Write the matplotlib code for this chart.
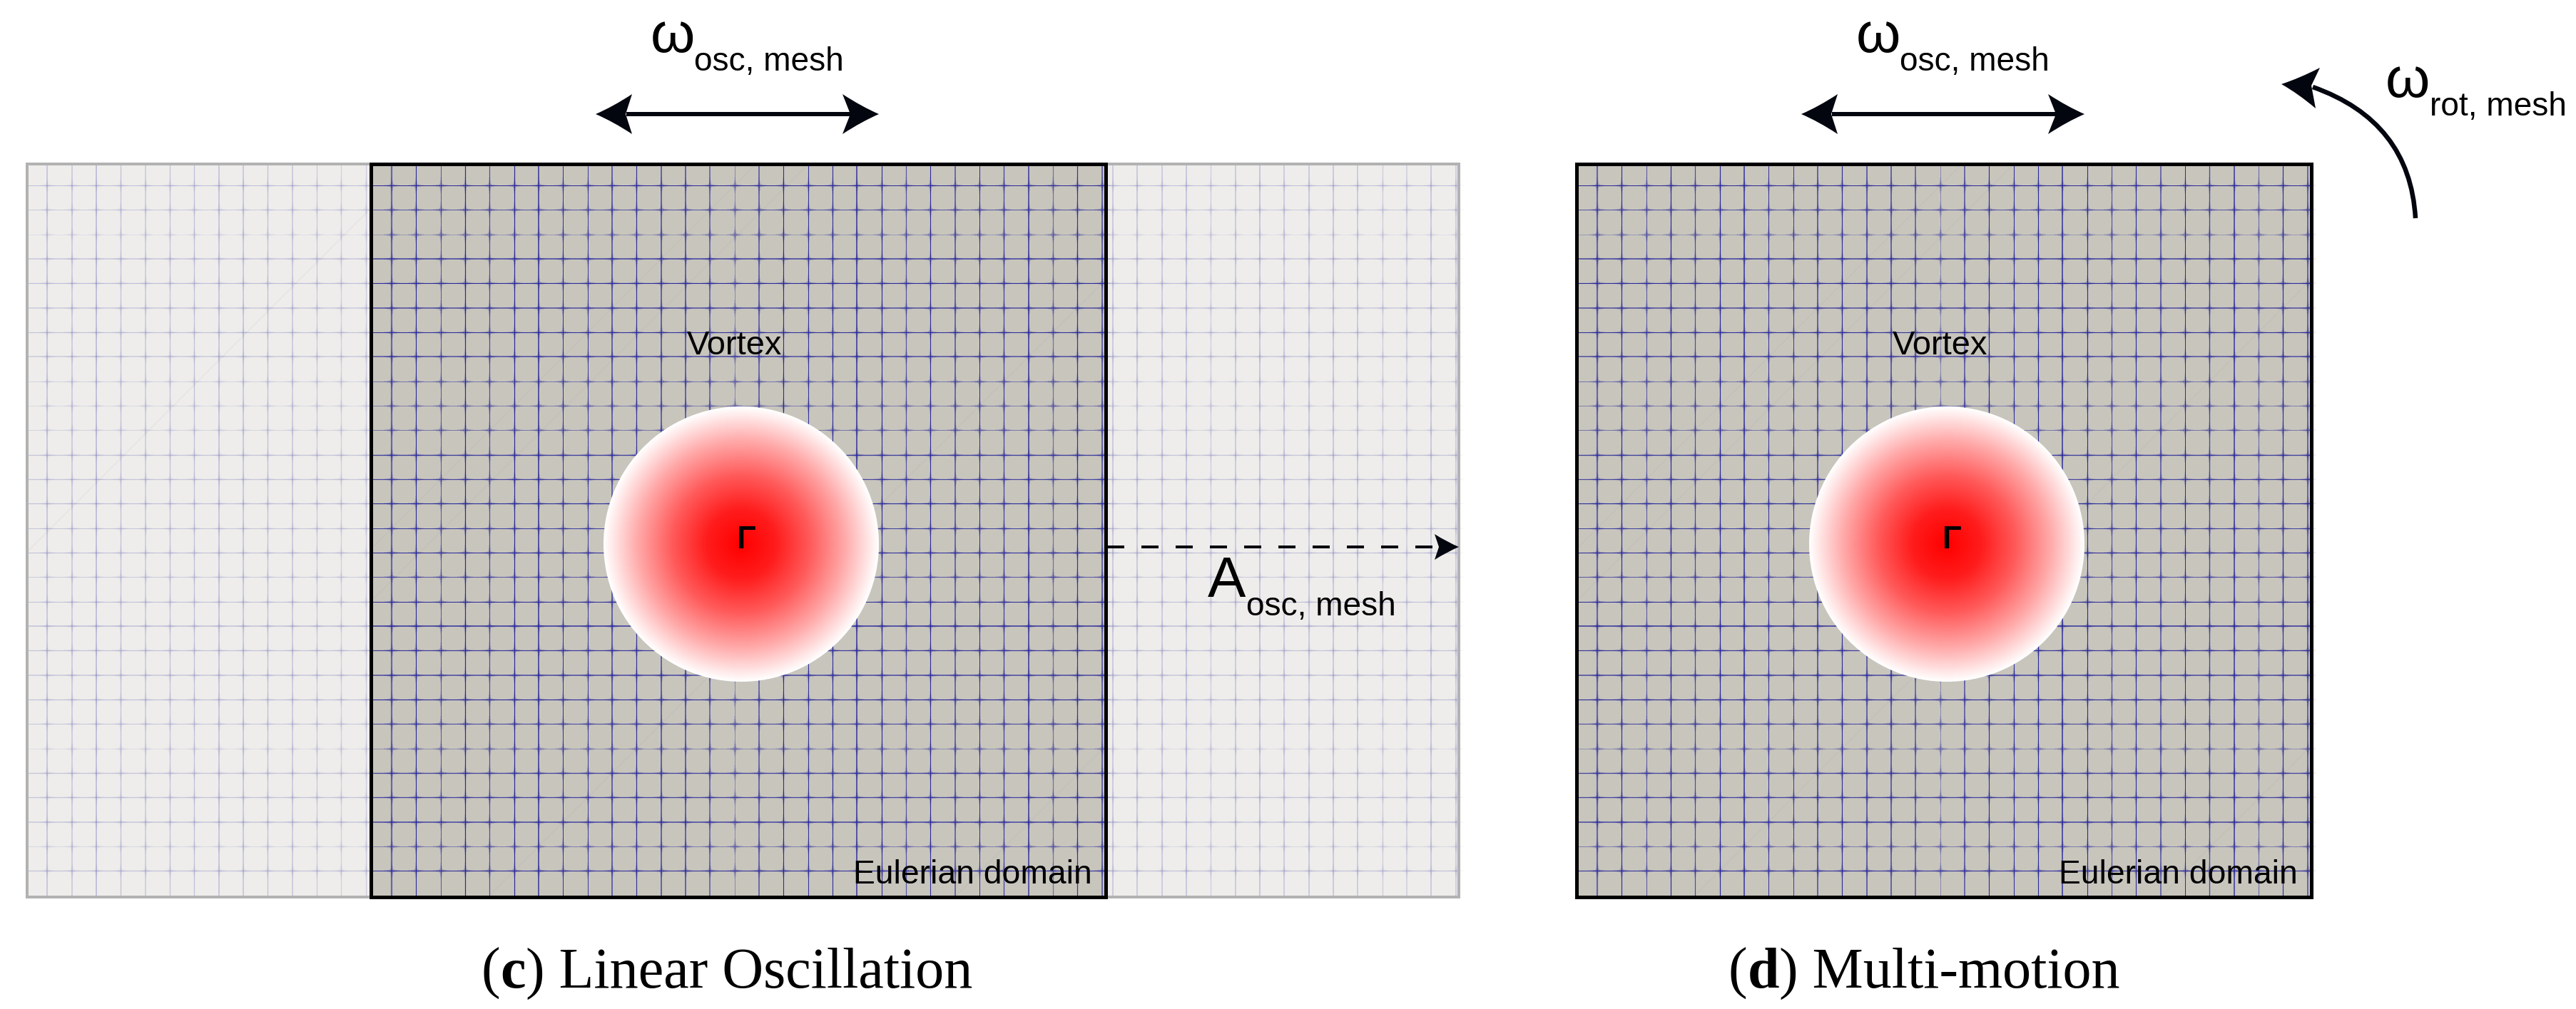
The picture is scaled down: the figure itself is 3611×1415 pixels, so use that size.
import numpy as np
import matplotlib
matplotlib.use("Agg")
import matplotlib.pyplot as plt
from matplotlib.path import Path
from matplotlib.patches import PathPatch, Rectangle, Circle
from matplotlib.colors import LinearSegmentedColormap, to_rgba
from matplotlib.collections import LineCollection

W, H = 3612, 1415
CELL = 34.33

# mesh line indices (counted in cells from the first interior line)
domain_cols = [0, 1, 2, 3, 4, 5, 6, 7, 8, 9, 10, 11, 12, 13, 14, 15, 16, 17, 18, 19, 20, 21, 22, 23, 24, 25, 26, 27, 28, 29]
domain_rows = [0, 1, 2, 3, 4, 5, 6, 7, 8, 9, 10, 11, 12, 13, 14, 15, 16, 17, 18, 19, 20, 21, 22, 23, 24, 25, 26, 27, 28]
left_cols = [-14, -13, -12, -11, -10, -9, -8, -7, -6, -5, -4, -3, -2, -1]
right_cols = [30, 31, 32, 33, 34, 35, 36, 37, 38, 39, 40, 41, 42, 43, 44]

# rendered weight of each mesh line
col_width = [2.2, 1.1, 1.0, 1.2, 1.2, 1.2, 2.0, 1.0, 1.0, 1.5, 1.2, 1.5, 1.5, 1.5, 1.0,
             1.5, 1.1, 1.1, 1.1, 2.0, 1.1, 1.2, 1.1, 1.6, 1.0, 1.3, 1.5, 1.2, 1.2, 2.0]
col_alpha = [.55, .90, .65, .90, .70, .90, .65, .85, .80, .75, .85, .75, .75, .65, .35,
             .70, .90, .85, .90, .65, .90, .65, .90, .65, .90, .75, .85, .50, .85, .55]
row_width = [1.0, 1.0, 1.0, 1.8, 1.1, 1.5, 1.1, 1.5, 1.0, 1.0, 1.0, 1.3, 1.2, 1.1, 1.0,
             1.0, 1.0, 1.0, 2.0, 1.2, 1.7, 1.1, 1.1, 1.0, 1.3, 1.3, 1.5, 1.0, 1.2]
row_alpha = [.90, .65, .25, .65, .90, .70, .85, .70, .45, .40, .45, .80, .75, .90, .80,
             .92, .65, .92, .65, .80, .65, .90, .70, .30, .75, .75, .75, .40, .80]
left_width = [1.6, 1.5, 2.0, 1.3, 1.5, 1.3, 1.3, 1.6, 1.6, 1.3, 1.6, 1.3, 1.3, 1.3]
left_alpha = [.21, .20, .20, .20, .18, .20, .20, .21, .20, .21, .18, .17, .14, .15]
right_width = [1.8, 1.6, 1.5, 1.6, 1.3, 1.5, 1.6, 1.5, 1.6, 1.5, 1.5, 1.3, 1.5, 1.6, 1.6]
right_alpha = [.17, .20, .20, .21, .15, .20, .21, .20, .20, .21, .20, .15, .15, .20, .18]

# faint mesh diagonals, as x + y of each
domain_diagonals = [1290, 1363, 1942, 2596]
outer_diagonals = [812]

captions = [[("(", False), ("c", True), (") Linear Oscillation", False)],
            [("(", False), ("d", True), (") Multi-motion", False)]]

SANS = "Liberation Sans"
SERIF = "Liberation Serif"
px = 0.72  # points per pixel at dpi 100

fig = plt.figure(figsize=(W / 100, H / 100), dpi=100, facecolor="white")
ax = fig.add_axes([0, 0, 1, 1])
ax.set_xlim(0, W)
ax.set_ylim(H, 0)
ax.axis("off")

TOP, BOTTOM = 230, 1258
X0, Y0 = 549, 260
SHIFT = 1690
NAVY = "#1a1a96"
DARK = "#03060f"


def col_x(k, off=0):
    return X0 + off + CELL * k


def row_y(k):
    return Y0 + CELL * k


def mesh(cols, rows, off, cw, ca, rw, ra, x_rng, z, ascale=1.0, star=1.0):
    vs = [[(col_x(c, off), TOP), (col_x(c, off), BOTTOM)] for c in cols]
    hs = [[(x_rng[0], row_y(r)), (x_rng[1], row_y(r))] for r in rows]
    colors = [to_rgba(NAVY, a) for a in ca] + [to_rgba(NAVY, a * ascale) for a in ra]
    widths = [w * px for w in list(cw) + list(rw)]
    ax.add_collection(LineCollection(vs + hs, colors=colors, linewidths=widths, zorder=z, capstyle="butt"))
    X, Y = np.meshgrid([col_x(c, off) for c in cols], [row_y(r) for r in rows])
    for length, lw, a in ((22, 1.6, .12), (14, 3.2, .12), (7, 4.0, .15)):
        ax.scatter(X.ravel(), Y.ravel(), marker="+", s=(length * px) ** 2, linewidths=lw * px,
                   color=NAVY, alpha=a * star, zorder=z)


def diagonals(sums, x_l, x_r, z):
    for s in sums:
        x1, x2 = max(x_l, s - BOTTOM), min(x_r, s - TOP)
        if x2 > x1:
            ax.plot([x1, x2], [s - x1, s - x2], color="#8a8a8a", alpha=.10, lw=1.1 * px, zorder=z)


def head(tip, c1, notch, c2, z=8):
    axis_mid = ((tip[0] + notch[0]) / 2, (tip[1] + notch[1]) / 2)
    m1 = ((tip[0] + c1[0]) / 2 * .75 + axis_mid[0] * .25, (tip[1] + c1[1]) / 2 * .75 + axis_mid[1] * .25)
    m2 = ((tip[0] + c2[0]) / 2 * .75 + axis_mid[0] * .25, (tip[1] + c2[1]) / 2 * .75 + axis_mid[1] * .25)
    verts = [tip, m1, c1, notch, c2, m2, tip, tip]
    codes = [Path.MOVETO, Path.CURVE3, Path.CURVE3, Path.LINETO, Path.LINETO, Path.CURVE3, Path.CURVE3, Path.CLOSEPOLY]
    ax.add_patch(PathPatch(Path(verts, codes), facecolor=DARK, edgecolor="none", zorder=z))


def double_arrow(off):
    y = 160
    ax.plot([878 + off, 1192 + off], [y, y], color=DARK, lw=6 * px, solid_capstyle="butt", zorder=7)
    head((835 + off, y), (886 + off, y - 28), (877 + off, y), (886 + off, y + 28))
    head((1232 + off, y), (1181 + off, y - 28), (1192 + off, y), (1181 + off, y + 28))


def sub_label(big, sub, x_big, x_sub, y_big, y_sub):
    ax.text(x_big, y_big, big, family=SANS, fontsize=80 * px, va="baseline", ha="left", color="black", zorder=9)
    ax.text(x_sub, y_sub, sub, family=SANS, fontsize=46 * px, va="baseline", ha="left", color="black", zorder=9)


# ---- left panel background: faded moving range
ax.add_patch(Rectangle((38, TOP), 2045 - 38, BOTTOM - TOP, facecolor="#eeedeb", edgecolor="none", zorder=1))
mesh(left_cols, domain_rows, -2, left_width, left_alpha, row_width, row_alpha, (38, 520), 2, ascale=.24, star=.2)
mesh(right_cols, domain_rows, -19, right_width, right_alpha, row_width, row_alpha, (1550, 2045), 2, ascale=.24, star=.2)
diagonals(outer_diagonals, 38, 520, 2)
ax.add_patch(Rectangle((38, TOP), 2045 - 38, BOTTOM - TOP, facecolor="none", edgecolor="#b2b2b2", lw=4 * px, zorder=3))

# ---- domains
cmap = LinearSegmentedColormap.from_list("v", ["#ff0000", "#ff1c1c", "#ff5a5a", "#ffa8a8", "#ffffff"])
n = 500
xs = np.linspace(-1, 1, n)
R = np.sqrt(xs[None, :] ** 2 + xs[:, None] ** 2)
for off in (0, SHIFT):
    x_l, x_r = 520 + off, 1550 + off
    ax.add_patch(Rectangle((x_l, TOP), x_r - x_l, BOTTOM - TOP, facecolor="#c8c5bd", edgecolor="none", zorder=4))
    diagonals([s + off for s in domain_diagonals], x_l, x_r, 4.5)
    mesh(domain_cols, domain_rows, off, col_width, col_alpha, row_width, row_alpha, (x_l, x_r), 5)
    ax.add_patch(Rectangle((x_l, TOP), x_r - x_l, BOTTOM - TOP, facecolor="none", edgecolor="black", lw=5 * px, zorder=6))

    # vortex with red core fading to white at its edge
    cx, cy, rad = 1039 + off, 763, 193
    im = ax.imshow(R, cmap=cmap, vmin=0, vmax=1.0, extent=(cx - rad, cx + rad, cy + rad, cy - rad),
                   aspect="auto", zorder=7, interpolation="bilinear")
    im.set_clip_path(Circle((cx, cy), rad, transform=ax.transData))
    ax.text(1033 + off, 769, "\u0393", family=SANS, fontweight="bold", fontsize=44 * px, va="baseline", ha="left", zorder=9)
    ax.text(963 + off, 497, "Vortex", family=SANS, fontsize=47 * px, va="baseline", ha="left", zorder=9)
    ax.text(1196 + off, 1239, "Eulerian domain", family=SANS, fontsize=46.3 * px, va="baseline", ha="left", zorder=9)
    double_arrow(off)
    sub_label("\u03c9", "osc, mesh", 912 + off, 973 + off, 73, 99)

ax.set_xlim(0, W)
ax.set_ylim(H, 0)

# ---- amplitude arrow
ax.plot([1552, 2017], [767, 767], color=DARK, lw=4 * px, dashes=(24 / 4, 24 / 4), dash_capstyle="butt", zorder=7)
head((2045, 767), (2011, 749), (2017, 767), (2011, 785))
sub_label("A", "osc, mesh", 1693, 1747, 837, 863)

# ---- rotation arrow
arc = Path([(3386, 306), (3378, 170), (3242, 122)], [Path.MOVETO, Path.CURVE3, Path.CURVE3])
ax.add_patch(PathPatch(arc, facecolor="none", edgecolor=DARK, lw=6.5 * px, capstyle="butt", zorder=7))
head((3198, 118), (3252, 95), (3240, 120), (3246, 152))
sub_label("\u03c9", "rot, mesh", 3344, 3406, 136, 162)

# ---- captions
fig.canvas.draw()
rend = fig.canvas.get_renderer()
for runs, x0 in zip(captions, (675, 2423)):
    x = x0
    for s, bold in runs:
        t = ax.text(x, 1385, s, family=SERIF, fontweight="bold" if bold else "normal", fontsize=80 * px,
                    va="baseline", ha="left", color="black", zorder=9)
        adv = rend.get_text_width_height_descent(s, t.get_fontproperties(), False)[0]
        x += adv

fig.savefig("out.png", dpi=100, facecolor="white")
